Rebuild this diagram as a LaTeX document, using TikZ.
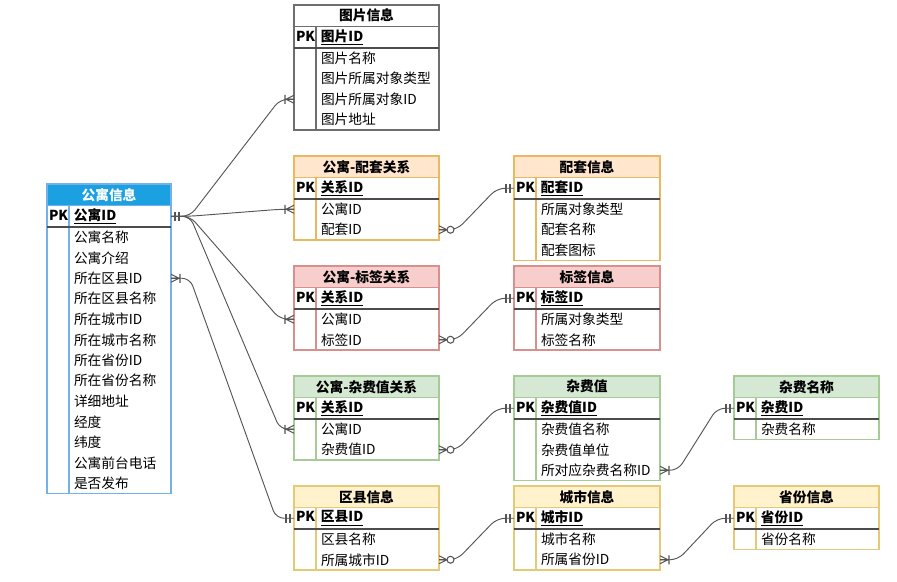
\documentclass[tikz,border=0pt]{standalone}
\usepackage{fontspec}
\setmainfont{Noto Sans CJK SC}
\usepackage{tikz}
\usepackage{xcolor}
\usetikzlibrary{positioning,calc}

\definecolor{blufill}{HTML}{1BA1E2}
\definecolor{blufr}{HTML}{74B0EA}
\definecolor{grayfr}{HTML}{6E6E6E}
\definecolor{orgfill}{HTML}{FFE6CC}
\definecolor{orgfr}{HTML}{EAB862}
\definecolor{redfill}{HTML}{F8CECC}
\definecolor{redfr}{HTML}{D7908D}
\definecolor{grnfill}{HTML}{D5E8D4}
\definecolor{grnfr}{HTML}{A6CB97}
\definecolor{ylwfill}{HTML}{FFF2CC}
\definecolor{ylwfr}{HTML}{E6C977}
\definecolor{linegray}{HTML}{555555}

\tikzset{
  hdr/.style={minimum height=16.125pt,inner sep=0pt,outer sep=0pt,line width=0.75pt,
    font=\fontsize{10.3pt}{12pt}\selectfont\bfseries},
  hblu/.style={fill=blufill,text=white},
  hgray/.style={fill=white},
  horg/.style={fill=orgfill},
  hred/.style={fill=redfill},
  hgrn/.style={fill=grnfill},
  hylw/.style={fill=ylwfill},
  fld/.style={minimum height=15.375pt,inner sep=0pt,outer sep=0pt,align=left,
    font=\fontsize{10.3pt}{12pt}\selectfont},
  sepline/.style={draw=black!70,line width=1.1pt},
  conn/.style={draw=linegray,line width=0.7pt,rounded corners=6pt},
  erline/.style={draw=linegray,line width=0.8pt},
  mandone/.pic={\draw[erline] (4,-4.5) -- (4,4.5) (8,-4.5) -- (8,4.5);},
  onemany/.pic={\draw[erline] (0,-4) -- (8,0) -- (0,4) (0,0) -- (8,0) (9,-4.5) -- (9,4.5);},
  zeromany/.pic={\draw[erline] (0,-4) -- (8,0) -- (0,4) (0,0) -- (8,0);
    \draw[erline,fill=white] (11.5,0) circle[radius=2.6pt];}
}

\newcommand\pkmark[1]{\rlap{\hspace*{1.5pt}\textbf{PK}}\hspace*{20.25pt}\textbf{\underline{#1}}}

% name, top left, width, header style, frame colour, title, key, fields
\newcommand\ertab[8]{%
  \node[hdr,#4,draw=#5,minimum width=#3,anchor=north west] (#1) at (#2) {#6};
  \node[fld,text width=#3,minimum height=16.125pt,below=0pt of #1] (#1id) {\pkmark{#7}};
  \foreach \t [count=\i] in {#8} {
    \node[fld,text width=#3,anchor=north] (#1\i) at ($(#1id.south)+(0,{20.5*(\i-1)})$) {\hspace*{20.25pt}\t};
    \xdef\lastrow{\i}
  }
  \draw[draw=#5,line width=0.8pt] (#1.north west) rectangle (#1\lastrow.south east);
  \draw[draw=#5,line width=0.8pt] ($(#1id.north west)+(22,0)$) -- ($(#1\lastrow.south west)+(22,0)$);
  \draw[sepline] (#1id.south west) -- (#1id.south east);
}

\begin{document}
\begin{tikzpicture}[x=0.75pt,y=-0.75pt]
\useasboundingbox (0,0) rectangle (897,582);
\ertab{gy}{47,184}{93pt}{hblu}{blufr}{公寓信息}{公寓ID}{公寓名称,公寓介绍,所在区县ID,所在区县名称,所在城市ID,所在城市名称,所在省份ID,所在省份名称,详细地址,经度,纬度,公寓前台电话,是否发布}
\ertab{tp}{294,5}{108.75pt}{hgray}{grayfr}{图片信息}{图片ID}{图片名称,图片所属对象类型,图片所属对象ID,图片地址}
\ertab{ptgx}{294,156}{108.75pt}{horg}{orgfr}{公寓-配套关系}{关系ID}{公寓ID,配套ID}
\ertab{ptxx}{514,156}{109.5pt}{horg}{orgfr}{配套信息}{配套ID}{所属对象类型,配套名称,配套图标}
\ertab{bqgx}{294,266}{108.75pt}{hred}{redfr}{公寓-标签关系}{关系ID}{公寓ID,标签ID}
\ertab{bqxx}{514,266}{109.5pt}{hred}{redfr}{标签信息}{标签ID}{所属对象类型,标签名称}
\ertab{zfgx}{294,376}{108.75pt}{hgrn}{grnfr}{公寓-杂费值关系}{关系ID}{公寓ID,杂费值ID}
\ertab{zfz}{514,376}{109.5pt}{hgrn}{grnfr}{杂费值}{杂费值ID}{杂费值名称,杂费值单位,所对应杂费名称ID}
\ertab{zfmc}{734,376}{108.75pt}{hgrn}{grnfr}{杂费名称}{杂费ID}{杂费名称}
\ertab{qx}{294,486}{108.75pt}{hylw}{ylwfr}{区县信息}{区县ID}{区县名称,所属城市ID}
\ertab{cs}{514,486}{109.5pt}{hylw}{ylwfr}{城市信息}{城市ID}{城市名称,所属省份ID}
\ertab{sf}{734,486}{108.75pt}{hylw}{ylwfr}{省份信息}{省份ID}{省份名称}

% apartment to its relations
\draw[conn] (gyid.east) -- ++(19,0) -- ($(tp3.west)+(-14,0)$) -- (tp3.west);
\draw[conn] (gyid.east) -- ++(19,0) -- ($(ptgx1.west)+(-14,0)$) -- (ptgx1.west);
\draw[conn] (gyid.east) -- ++(19,0) -- ($(bqgx1.west)+(-14,0)$) -- (bqgx1.west);
\draw[conn] (gyid.east) -- ++(19,0) -- ($(zfgx1.west)+(-14,0)$) -- (zfgx1.west);
\draw[conn] (gy3.east) -- ++(19,0) -- ($(qxid.west)+(-18,0)$) -- (qxid.west);
% links to the lookup tables
\draw[conn] (ptgx2.east) -- ++(18,0) -- ($(ptxxid.west)+(-17,0)$) -- (ptxxid.west);
\draw[conn] (bqgx2.east) -- ++(18,0) -- ($(bqxxid.west)+(-17,0)$) -- (bqxxid.west);
\draw[conn] (zfgx2.east) -- ++(18,0) -- ($(zfzid.west)+(-17,0)$) -- (zfzid.west);
\draw[conn] (zfz3.east) -- ++(18,0) -- ($(zfmcid.west)+(-17,0)$) -- (zfmcid.west);
\draw[conn] (qx2.east) -- ++(18,0) -- ($(csid.west)+(-17,0)$) -- (csid.west);
\draw[conn] (cs2.east) -- ++(18,0) -- ($(sfid.west)+(-17,0)$) -- (sfid.west);

\pic[line width=1.2pt] at (gyid.east) {mandone};
\pic at (gy3.east) {onemany};
\pic[xscale=-1] at (tp3.west) {onemany};
\pic[xscale=-1] at (ptgx1.west) {onemany};
\pic[xscale=-1] at (bqgx1.west) {onemany};
\pic[xscale=-1] at (zfgx1.west) {onemany};
\pic[xscale=-1] at (qxid.west) {mandone};
\pic at (ptgx2.east) {zeromany};
\pic at (bqgx2.east) {zeromany};
\pic at (zfgx2.east) {zeromany};
\pic at (qx2.east) {zeromany};
\pic at (zfz3.east) {onemany};
\pic at (cs2.east) {onemany};
\pic[xscale=-1] at (ptxxid.west) {mandone};
\pic[xscale=-1] at (bqxxid.west) {mandone};
\pic[xscale=-1] at (zfzid.west) {mandone};
\pic[xscale=-1] at (zfmcid.west) {mandone};
\pic[xscale=-1] at (csid.west) {mandone};
\pic[xscale=-1] at (sfid.west) {mandone};
\end{tikzpicture}
\end{document}
